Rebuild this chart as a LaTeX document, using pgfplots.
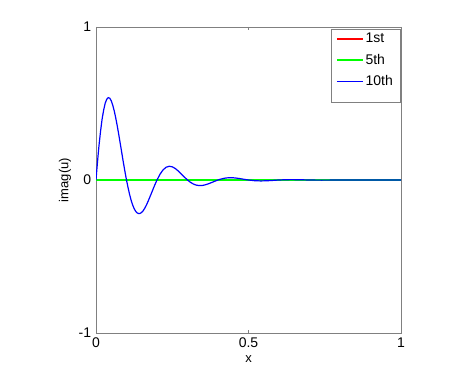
\documentclass[border=0pt]{standalone}
\usepackage{fontspec}
\setmainfont{Liberation Sans}
\usepackage{pgfplots}
\pgfplotsset{compat=1.18}

\begin{document}
\fontsize{14}{16}\selectfont
\begin{tikzpicture}
\useasboundingbox (0,0) rectangle (471pt,375pt);
\begin{axis}[
    at={(96pt,42pt)}, anchor=south west,
    width=305pt, height=306pt, scale only axis,
    xmin=0, xmax=1, ymin=-1, ymax=1,
    xtick={0,0.5,1}, ytick={-1,0,1},
    xticklabels={0,0.5,1}, yticklabels={-1,0,1},
    tick align=inside, major tick length=3pt,
    axis line style={gray},
    major tick style={gray},
    label style={font=\fontsize{13}{15}\selectfont},
    xlabel={x}, ylabel={imag(u)},
    xlabel style={yshift=2pt},
    ylabel style={yshift=-2pt},
    legend style={at={(1,1)}, anchor=north east,
        xshift=-1pt, yshift=-2pt, draw=gray,
        inner xsep=5pt, inner ysep=2pt, row sep=5pt},
    legend cell align=left,
    legend image code/.code={\draw[#1] (0pt,0pt) -- (26pt,0pt);},
]
\addlegendimage{draw=red, line width=1.2pt}
\addlegendentry{1st}
\addlegendimage{draw=green, line width=1.2pt}
\addlegendentry{5th}
\addlegendimage{draw=blue, line width=1.2pt}
\addlegendentry{10th}
\addlegendimage{empty legend}
\addlegendentry{}
\addplot[draw=red, line width=1.2pt, forget plot] coordinates {(0,0) (1,0)};
\addplot[draw=green, line width=1.2pt, forget plot] coordinates {(0,0) (1,0)};
\addplot[draw=blue, line width=1.2pt, forget plot] coordinates {
(0,0) (0.0025,0.062) (0.005,0.12) (0.0075,0.176) (0.01,0.2288) (0.015,0.320)
(0.02,0.3980) (0.025,0.456) (0.03,0.5008) (0.035,0.527) (0.04,0.5383)
(0.045,0.535) (0.05,0.5175) (0.055,0.488) (0.06,0.4500) (0.065,0.403)
(0.07,0.3500) (0.075,0.293) (0.08,0.2325) (0.085,0.172) (0.09,0.1118)
(0.095,0.054) (0.10,0) (0.105,-0.049) (0.11,-0.0934) (0.115,-0.131)
(0.12,-0.1625) (0.125,-0.187) (0.13,-0.2044) (0.135,-0.215) (0.14,-0.2197)
(0.145,-0.218) (0.15,-0.2112) (0.155,-0.200) (0.16,-0.1837) (0.165,-0.165)
(0.17,-0.1428) (0.175,-0.119) (0.18,-0.0949) (0.185,-0.070) (0.19,-0.0456)
(0.195,-0.022) (0.20,0) (0.21,0.0381) (0.22,0.0663) (0.23,0.0835) (0.24,0.0897)
(0.25,0.0862) (0.26,0.0750) (0.27,0.0583) (0.28,0.0387) (0.29,0.0186)
(0.30,0) (0.31,-0.0156) (0.32,-0.0271) (0.33,-0.0341) (0.34,-0.0366)
(0.35,-0.0352) (0.36,-0.0306) (0.37,-0.0238) (0.38,-0.0158) (0.39,-0.0076)
(0.40,0) (0.41,0.0062) (0.42,0.0111) (0.43,0.0139) (0.44,0.0149)
(0.45,0.0144) (0.46,0.0125) (0.47,0.0097) (0.48,0.0064) (0.49,0.0031)
(0.50,0) (0.52,-0.0045) (0.54,-0.0061) (0.56,-0.0051) (0.58,-0.0026)
(0.60,0) (0.62,0.0018) (0.64,0.0025) (0.66,0.0021) (0.68,0.0011)
(0.70,0) (0.72,-0.0007) (0.74,-0.0010) (0.76,-0.0008) (0.80,0)
(0.90,0) (1,0)};
\end{axis}
\end{tikzpicture}
\end{document}
